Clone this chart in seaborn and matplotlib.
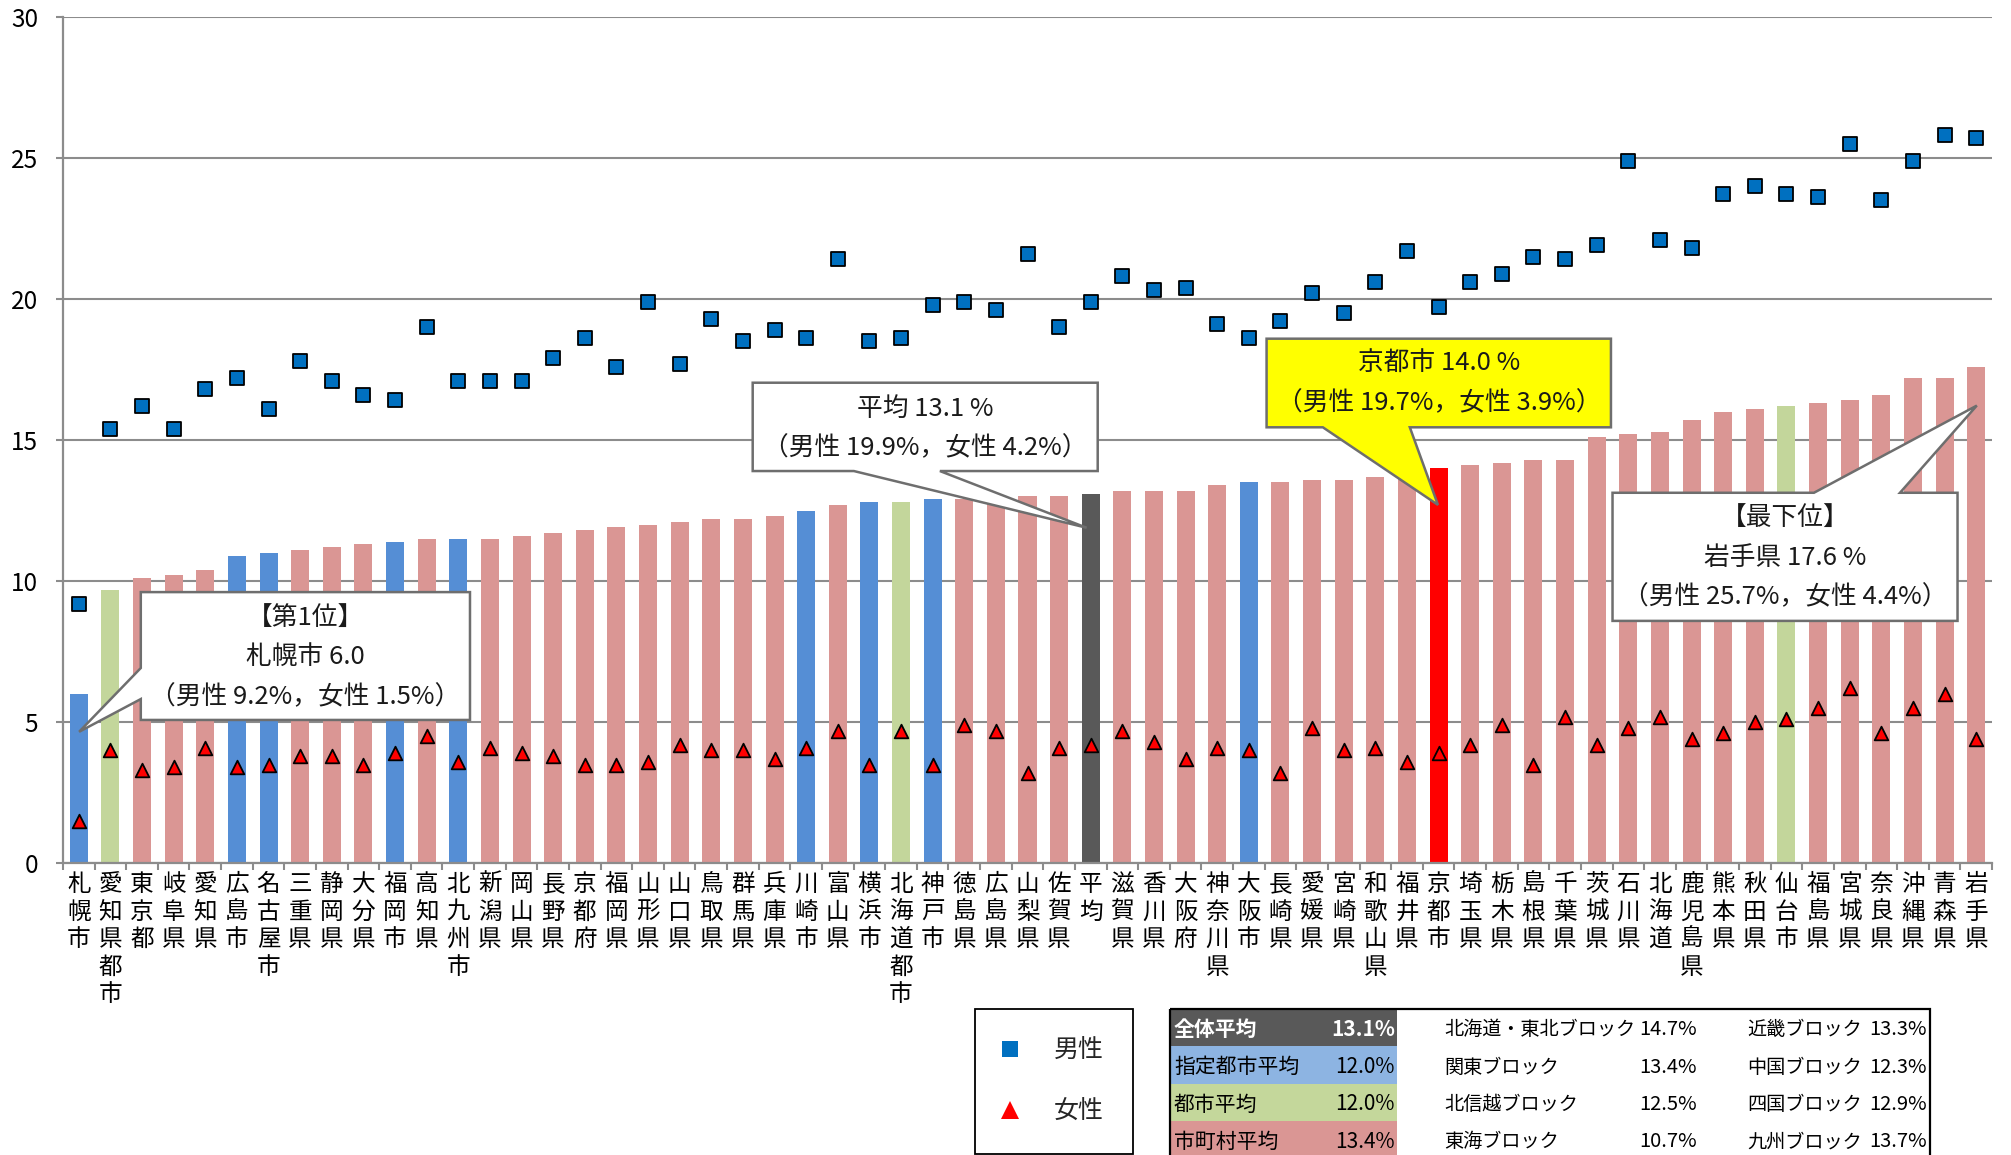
import numpy as np
import pandas as pd
import matplotlib
matplotlib.use("Agg")
import matplotlib.pyplot as plt
import seaborn as sns
from matplotlib.patches import Polygon, Rectangle
from matplotlib.lines import Line2D

# ---- data -------------------------------------------------------------
regions = ["札幌市", "愛知県都市", "東京都", "岐阜県", "愛知県", "広島市", "名古屋市", "三重県",
           "静岡県", "大分県", "福岡市", "高知県", "北九州市", "新潟県", "岡山県", "長野県",
           "京都府", "福岡県", "山形県", "山口県", "鳥取県", "群馬県", "兵庫県", "川崎市",
           "富山県", "横浜市", "北海道都市", "神戸市", "徳島県", "広島県", "山梨県", "佐賀県",
           "平均", "滋賀県", "香川県", "大阪府", "神奈川県", "大阪市", "長崎県", "愛媛県",
           "宮崎県", "和歌山県", "福井県", "京都市", "埼玉県", "栃木県", "島根県", "千葉県",
           "茨城県", "石川県", "北海道", "鹿児島県", "熊本県", "秋田県", "仙台市", "福島県",
           "宮城県", "奈良県", "沖縄県", "青森県", "岩手県"]

total = [6.0, 9.7, 10.1, 10.2, 10.4, 10.9, 11.0, 11.1, 11.2, 11.3,
         11.4, 11.5, 11.5, 11.5, 11.6, 11.7, 11.8, 11.9, 12.0, 12.1,
         12.2, 12.2, 12.3, 12.5, 12.7, 12.8, 12.8, 12.9, 12.9, 13.0,
         13.0, 13.0, 13.1, 13.2, 13.2, 13.2, 13.4, 13.5, 13.5, 13.6,
         13.6, 13.7, 13.7, 14.0, 14.1, 14.2, 14.3, 14.3, 15.1, 15.2,
         15.3, 15.7, 16.0, 16.1, 16.2, 16.3, 16.4, 16.6, 17.2, 17.2, 17.6]

male = [9.2, 15.4, 16.2, 15.4, 16.8, 17.2, 16.1, 17.8, 17.1, 16.6,
        16.4, 19.0, 17.1, 17.1, 17.1, 17.9, 18.6, 17.6, 19.9, 17.7,
        19.3, 18.5, 18.9, 18.6, 21.4, 18.5, 18.6, 19.8, 19.9, 19.6,
        21.6, 19.0, 19.9, 20.8, 20.3, 20.4, 19.1, 18.6, 19.2, 20.2,
        19.5, 20.6, 21.7, 19.7, 20.6, 20.9, 21.5, 21.4, 21.9, 24.9,
        22.1, 21.8, 23.7, 24.0, 23.7, 23.6, 25.5, 23.5, 24.9, 25.8, 25.7]

female = [1.5, 4.0, 3.3, 3.4, 4.1, 3.4, 3.5, 3.8, 3.8, 3.5,
          3.9, 4.5, 3.6, 4.1, 3.9, 3.8, 3.5, 3.5, 3.6, 4.2,
          4.0, 4.0, 3.7, 4.1, 4.7, 3.5, 4.7, 3.5, 4.9, 4.7,
          3.2, 4.1, 4.2, 4.7, 4.3, 3.7, 4.1, 4.0, 3.2, 4.8,
          4.0, 4.1, 3.6, 3.9, 4.2, 4.9, 3.5, 5.2, 4.2, 4.8,
          5.2, 4.4, 4.6, 5.0, 5.1, 5.5, 6.2, 4.6, 5.5, 6.0, 4.4]

designated = ["札幌市", "広島市", "名古屋市", "福岡市", "北九州市", "川崎市", "横浜市", "神戸市", "大阪市"]
city_groups = ["愛知県都市", "北海道都市", "仙台市"]
overall = "平均"
highlight = "京都市"

# summary table
summary_labels = ["全体平均", "指定都市平均", "都市平均", "市町村平均"]
summary_values = [13.1, 12.0, 12.0, 13.4]
block_labels_a = ["北海道・東北ブロック", "関東ブロック", "北信越ブロック", "東海ブロック"]
block_values_a = [14.7, 13.4, 12.5, 10.7]
block_labels_b = ["近畿ブロック", "中国ブロック", "四国ブロック", "九州ブロック"]
block_values_b = [13.3, 12.3, 12.9, 13.7]

# ---- styling ----------------------------------------------------------
palette = {"指定都市": "#558ED5", "都市": "#C3D69B", "市町村": "#DA9694",
           "平均": "#595959", "京都市": "#FF0000"}
summary_colors = ["#595959", "#8DB4E2", "#C4D79B", "#DA9694"]
GRID = "#8C8C8C"


def group_of(name):
    if name == overall:
        return "平均"
    if name == highlight:
        return "京都市"
    if name in designated:
        return "指定都市"
    if name in city_groups:
        return "都市"
    return "市町村"


df = pd.DataFrame({"region": regions, "total": total, "male": male,
                   "female": female})
df["group"] = [group_of(r) for r in regions]

sns.set_theme(style="white")
plt.rcParams["font.family"] = ["Noto Sans CJK JP", "DejaVu Sans"]

W, H = 2011, 1155
fig = plt.figure(figsize=(W / 100, H / 100), dpi=100)
fig.patch.set_facecolor("white")
ax = fig.add_axes([63 / W, (H - 863.3) / H, 1929 / W, 846.6 / H])

sns.barplot(data=df, x="region", y="total", hue="group", order=regions,
            hue_order=list(palette), palette=palette, dodge=False, width=0.57,
            saturation=1, linewidth=0, errorbar=None, legend=False, ax=ax,
            zorder=2)
sns.stripplot(data=df, x="region", y="male", order=regions, jitter=False,
              marker="s", size=9.4, color="#0070C0", edgecolor="black",
              linewidth=1.3, ax=ax, zorder=4)
sns.stripplot(data=df, x="region", y="female", order=regions, jitter=False,
              marker="^", size=9.8, color="#FF0000", edgecolor="black",
              linewidth=1.3, ax=ax, zorder=4)

ax.set_xlim(-0.5, len(regions) - 0.5)
ax.set_ylim(0, 30)
ax.set_yticks(range(0, 31, 5))
ax.yaxis.grid(True, color=GRID, lw=1.5)
ax.xaxis.grid(False)
ax.set_axisbelow(True)
ax.set_xlabel("")
ax.set_ylabel("")

ax.set_xticks(range(len(regions)))
ax.set_xticklabels(["\n".join(r) for r in regions], fontsize=17,
                   linespacing=1.25, color="black")
ax.set_xticks(np.arange(-0.5, len(regions)), minor=True)
ax.tick_params(axis="x", which="major", length=0, pad=7, bottom=True)
ax.tick_params(axis="x", which="minor", length=5, width=1.5, color=GRID,
               direction="out", bottom=True)
ax.tick_params(axis="y", length=5, width=1.5, color=GRID, pad=13,
               labelsize=17.5, left=True, labelcolor="black")

for side in ("top", "right"):
    ax.spines[side].set_visible(False)
for side in ("left", "bottom"):
    ax.spines[side].set_color(GRID)
    ax.spines[side].set_linewidth(1.6)


# ---- callouts ---------------------------------------------------------
def callout(x0, x1, y0, y1, edge, a, b, tip, lines, line_y, fc="white"):
    if edge == "left":
        pts = [(x0, y1), (x1, y1), (x1, y0), (x0, y0), (x0, b), tip, (x0, a)]
    elif edge == "bottom":
        pts = [(x0, y1), (x1, y1), (x1, y0), (b, y0), tip, (a, y0), (x0, y0)]
    else:
        pts = [(x0, y1), (a, y1), tip, (b, y1), (x1, y1), (x1, y0), (x0, y0)]
    ax.add_patch(Polygon(pts, closed=True, fc=fc, ec="#6E6E6E", lw=1.8,
                         zorder=6, clip_on=False, joinstyle="miter"))
    xc = (x0 + x1) / 2
    for txt, yy in zip(lines, line_y):
        ax.text(xc, yy, txt, ha="center", va="center", fontsize=18.5,
                color="#1A1A1A", zorder=7)


def detail(i):
    return f"（男性 {male[i]:.1f}%，女性 {female[i]:.1f}%）"


i_top = 0
i_avg = regions.index(overall)
i_hl = regions.index(highlight)
i_last = len(regions) - 1

callout(1.96, 12.37, 5.08, 9.61, "left", 6.92, 5.82, (i_top + 0.01, 4.66),
        ["【第1位】", f"{regions[i_top]} {total[i_top]:.1f}", detail(i_top)],
        [8.69, 7.31, 5.89])
callout(21.31, 32.22, 13.90, 17.03, "bottom", 24.51, 27.23,
        (i_avg - 0.13, 11.89),
        [f"{regions[i_avg]} {total[i_avg]:.1f} %", detail(i_avg)],
        [16.09, 14.72])
callout(37.56, 48.45, 15.45, 18.59, "bottom", 39.34, 42.09,
        (i_hl - 0.02, 12.70),
        [f"{regions[i_hl]} {total[i_hl]:.1f} %", detail(i_hl)],
        [17.69, 16.31], fc="#FFFF00")
callout(48.50, 59.41, 8.59, 13.13, "top", 54.87, 57.59,
        (i_last + 0.02, 16.22),
        ["【最下位】", f"{regions[i_last]} {total[i_last]:.1f} %", detail(i_last)],
        [12.23, 10.82, 9.44])

# ---- legend -----------------------------------------------------------
handles = [Line2D([], [], ls="none", marker="s", markersize=11,
                  markerfacecolor="#0070C0", markeredgewidth=0),
           Line2D([], [], ls="none", marker="^", markersize=13,
                  markerfacecolor="#FF0000", markeredgewidth=0)]
leg = fig.legend(handles, ["男性", "女性"], loc="upper left",
                 bbox_to_anchor=(975 / W, 1 - 1009 / H), frameon=True,
                 fancybox=False, framealpha=1, edgecolor="black",
                 borderpad=1.15, labelspacing=1.4, handlelength=0.5,
                 handletextpad=1.5, borderaxespad=0, prop={"size": 18})
leg.get_frame().set_linewidth(1.3)

# ---- summary table ----------------------------------------------------
tab = fig.add_axes([1170 / W, 0, (1932 - 1170) / W, (H - 1008) / H])
tab.set_xlim(1170, 1932)
tab.set_ylim(H, 1008)
tab.axis("off")
row_top, row_h = 1009, 37.4
for r in range(4):
    y = row_top + r * row_h
    yc = y + row_h / 2 + 2
    tab.add_patch(Rectangle((1170, y), 227, row_h, fc=summary_colors[r],
                            ec="none", zorder=1, clip_on=False))
    col = "white" if r == 0 else "black"
    weight = "bold" if r == 0 else "normal"
    tab.text(1174, yc, summary_labels[r], ha="left", va="center",
             fontsize=15, color=col, weight=weight, zorder=2)
    tab.text(1395, yc, f"{summary_values[r]:.1f}%", ha="right", va="center",
             fontsize=15, color=col, weight=weight, zorder=2)
    tab.text(1444, yc, block_labels_a[r], ha="left", va="center",
             fontsize=13.8, color="black")
    tab.text(1697, yc, f"{block_values_a[r]:.1f}%", ha="right", va="center",
             fontsize=14.5, color="black")
    tab.text(1747, yc, block_labels_b[r], ha="left", va="center",
             fontsize=13.8, color="black")
    tab.text(1927, yc, f"{block_values_b[r]:.1f}%", ha="right", va="center",
             fontsize=14.5, color="black")
tab.add_patch(Rectangle((1170, 1009), 760, 200, fill=False, ec="black",
                        lw=1.6, zorder=3, clip_on=False))

fig.savefig("out.png", dpi=100, facecolor="white")
